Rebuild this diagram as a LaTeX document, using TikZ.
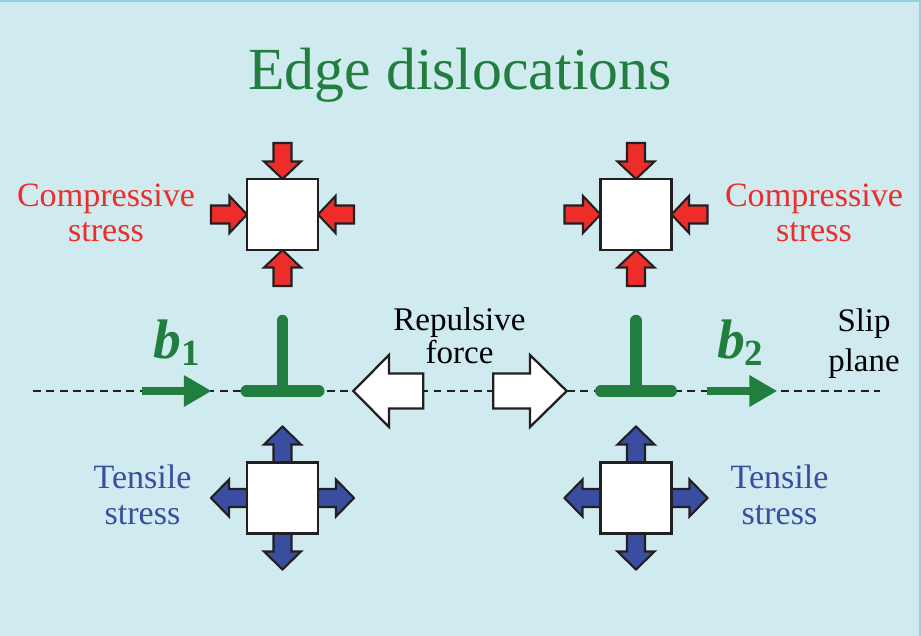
\documentclass[tikz,border=0pt]{standalone}
\usepackage{fontspec}
\setmainfont{Liberation Serif}
\usetikzlibrary{arrows.meta}
\definecolor{paper}{HTML}{CFEBEF}
\definecolor{rim}{HTML}{8ED2DE}
\definecolor{ink}{HTML}{231F20}
\definecolor{leaf}{HTML}{227E3E}
\definecolor{squeeze}{HTML}{EE2D2B}
\definecolor{pull}{HTML}{3A4EA1}

% four block arrows round a white element, pointing in or out
\tikzset{
  pics/squeezed/.style={code={
    \foreach \a in {0,90,180,270}
      \filldraw[arrowedge,fill=#1,rotate=\a]
        (35.5,0) -- (53,18.5) -- (53,9) -- (71.5,9)
        -- (71.5,-9) -- (53,-9) -- (53,-18.5) -- cycle;
    \node[stressbox] (-box) at (0,0) {};
  }},
  pics/stretched/.style={code={
    \foreach \a in {0,90,180,270}
      \filldraw[arrowedge,fill=#1,rotate=\a]
        (71.5,0) -- (53.5,18.5) -- (53.5,9) -- (35.5,9)
        -- (35.5,-9) -- (53.5,-9) -- (53.5,-18.5) -- cycle;
    \node[stressbox] (-box) at (0,0) {};
  }},
}

\begin{document}
\begin{tikzpicture}[x=0.02cm,y=-0.02cm,>=Latex,
  arrowedge/.style={draw=ink,line width=1.2pt,line join=miter},
  stressbox/.style={draw=ink,line width=1.5pt,fill=white,
    minimum size=1.42cm,inner sep=0pt,outer sep=0pt},
  slipline/.style={draw=ink,line width=1.6pt,dash pattern=on 4.5pt off 3.1pt},
  disloc/.style={draw=leaf,line width=6.5pt,line cap=round},
  burgers/.style={draw=leaf,line width=5.1pt,
    -{Triangle[length=15.9pt,width=17pt]}},
  label/.style={align=center,inner sep=0pt,anchor=base,
    font=\fontsize{19.4}{20.2}\selectfont},
  bvec/.style={inner sep=0pt,anchor=base west,text=leaf,
    font=\fontsize{31.7}{34}\selectfont\bfseries\itshape}]
  \useasboundingbox (0,0) rectangle (921,636);
  \fill[paper] (0,0) rectangle (921,636);
  \draw[rim,line width=1.2pt] (0,1) -- (920,1) -- (920,636);

  \node[anchor=base,text=leaf,font=\fontsize{34}{40}\selectfont]
    (title) at (460,89.3) {Edge dislocations};

  % slip plane and the two dislocations on it
  \coordinate (slipL) at (33,391);
  \coordinate (slipR) at (880,391);
  \draw[slipline] (slipL) -- (slipR);

  \coordinate (pushL) at (353.3,391);
  \coordinate (pushR) at (566.7,391);
  \filldraw[arrowedge,line width=1.3pt,fill=white] (pushL)
    -- ++(35.7,-36) -- ++(0,18.5) -- ++(34.3,0) -- ++(0,35)
    -- ++(-34.3,0) -- ++(0,18.5) -- cycle;
  \filldraw[arrowedge,line width=1.3pt,fill=white] (pushR)
    -- ++(-36.7,-36) -- ++(0,18.5) -- ++(-36.7,0) -- ++(0,35)
    -- ++(36.7,0) -- ++(0,18.5) -- cycle;

  \coordinate (d1) at (282.5,391);
  \coordinate (d2) at (636,391);
  \draw[disloc] (d1) ++(-36.3,0) -- ++(72.6,0) (d1) -- ++(0,-70.5);
  \draw[disloc] (d2) ++(-35.3,0) -- ++(70.6,0) (d2) -- ++(0,-70.5);

  \coordinate (b1tail) at (141.7,391);
  \coordinate (b1tip) at (211.7,391);
  \coordinate (b2tail) at (706.7,391);
  \coordinate (b2tip) at (777.3,391);
  \draw[burgers] (b1tail) -- (b1tip);
  \draw[burgers] (b2tail) -- (b2tip);
  \node[bvec] (b1) at (153,358)
    {b\raisebox{-4pt}{\fontsize{21}{24}\selectfont\upshape 1}};
  \node[bvec] (b2) at (716.7,358)
    {b\raisebox{-4pt}{\fontsize{21}{24}\selectfont\upshape 2}};

  % stress state above and below the slip plane
  \pic (compL) at (282.5,214.5) {squeezed=squeeze};
  \pic (compR) at (636,214.5) {squeezed=squeeze};
  \pic (tensL) at (282.5,498) {stretched=pull};
  \pic (tensR) at (636,498) {stretched=pull};

  % labels sit on the baseline of their last line
  \node[label,text=squeeze] (compLtxt) at (106,241.7) {Compressive\\stress};
  \node[label,text=squeeze] (compRtxt) at (814,241.7) {Compressive\\stress};
  \node[label,text=pull] (tensLtxt) at (142.5,524) {Tensile\\stress};
  \node[label,text=pull] (tensRtxt) at (779.5,524) {Tensile\\stress};
  \node[label,font=\fontsize{18.8}{18.7}\selectfont]
    (force) at (459.5,363.3) {Repulsive\\force};
  \node[label,font=\fontsize{18.7}{22.7}\selectfont]
    (plane) at (864,371.7) {Slip\\plane};
\end{tikzpicture}
\end{document}
